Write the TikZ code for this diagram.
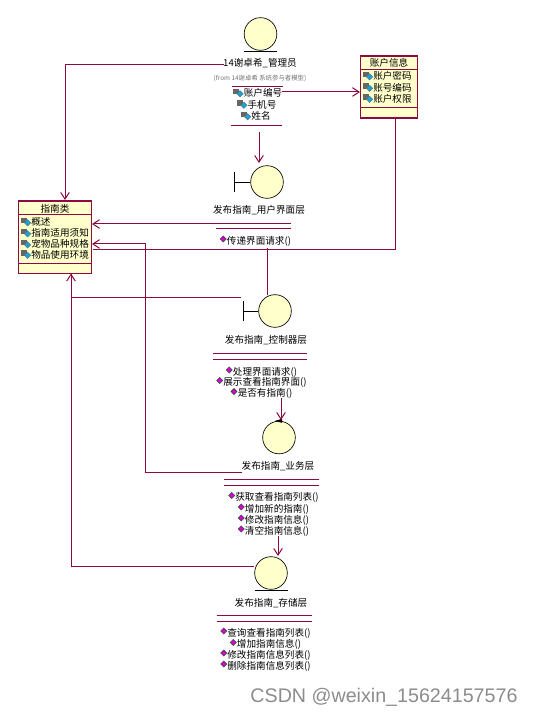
\documentclass[tikz,border=0pt]{standalone}
\usepackage{fontspec}
\setmainfont{Noto Sans CJK SC}
\newfontfamily\wmfont{Liberation Sans}
\usetikzlibrary{shapes.geometric, arrows.meta, positioning}
\definecolor{rosered}{RGB}{140,10,65}
\definecolor{roseyellow}{RGB}{255,255,203}
\definecolor{opicon}{RGB}{210,0,210}
\definecolor{attricon}{RGB}{30,160,210}

\begin{document}
\begin{tikzpicture}[x=0.75pt, y=-0.75pt, every node/.style={inner sep=0pt, font=\fontsize{7.2}{8}\selectfont}, align=center]
    % Define styles for the blocks
    \tikzstyle{classbox} = [rectangle, draw=rosered, fill=roseyellow, line width=0.8pt, anchor=north west]
    \tikzstyle{lifeball} = [circle, draw=black, fill=roseyellow, line width=0.5pt, minimum size=24.5pt]
    \tikzstyle{stereobar} = [draw=black, line width=0.6pt]
    \tikzstyle{compline} = [draw=rosered, line width=0.75pt]
    \tikzstyle{arrow} = [draw=rosered, line width=0.75pt, -{Straight Barb[length=5pt, width=6.5pt]}]
    \tikzstyle{wire} = [draw=rosered, line width=0.75pt]
    \tikzstyle{attr} = [label={[rectangle, fill=black!60, minimum width=4.5pt, minimum height=4pt, xshift=-3pt, yshift=1.2pt]left:{}}, label={[diamond, fill=attricon, draw=black!60, line width=0.2pt, minimum size=5pt, yshift=-0.6pt]left:{}}]
    \tikzstyle{oper} = [label={[diamond, fill=opicon, draw=green!40!black, line width=0.3pt, minimum size=4.8pt, yshift=1.5pt]left:{}}]

    \useasboundingbox (0,0) rectangle (533,716);

    % Define the class boxes
    \node (account) [classbox, minimum width=42.75pt, minimum height=46.5pt] at (360,55.5) {};
    \node (guide) [classbox, minimum width=54.4pt, minimum height=54.4pt] at (18,200.5) {};
    \node (accounttitle) at (389,63) {账户信息};
    \node (guidetitle) at (55,208.5) {指南类};
    \draw [compline] (360,69.5) -- (417,69.5);
    \draw [compline] (360,108) -- (417,108);
    \draw [compline] (18,215) -- (90.5,215);
    \draw [compline] (18,264) -- (90.5,264);

    \node (accpass) [attr, anchor=west] at (373,76) {账户密码};
    \node (acccode) [attr, anchor=west] at (373,87.5) {账号编码};
    \node (accperm) [attr, anchor=west] at (373,98.5) {账户权限};
    \node (guidedesc) [attr, anchor=west] at (31,222) {概述};
    \node (guidenote) [attr, anchor=west] at (31,233) {指南适用须知};
    \node (guidepet) [attr, anchor=west] at (31,244) {宠物品种规格};
    \node (guideenv) [attr, anchor=west] at (31,254.5) {物品使用环境};

    % Define the actor
    \node (admin) [lifeball] at (260.5,34) {};
    \draw [stereobar] (244,51) -- (277,51);
    \node (adminname) at (260,63.5) {14谢卓希\_管理员};
    \node (adminfrom) [font=\fontsize{4.8}{6}\selectfont, text=black!55] at (260,78) {(from 14谢卓希 系统参与者模型)};
    \draw [compline] (232,86.5) -- (283,86.5);
    \node (adminid) at (263,93) [attr] {账户编号};
    \node (adminphone) at (262,104.5) [attr] {手机号};
    \node (adminuser) at (261,116) [attr] {姓名};
    \draw [compline] (231,125.5) -- (282,125.5);

    % Define the user interface layer
    \node (ui) [lifeball] at (267,182) {};
    \draw [stereobar] (234,182) -- (ui.west);
    \draw [stereobar] (234,172) -- (234,192);
    \node (uiname) at (259,210) {发布指南\_用户界面层};
    \draw [compline] (216,224) -- (291,224);
    \draw [compline] (216,229) -- (291,229);
    \node (uipass) [oper] at (259,241) {传递界面请求()};

    % Define the controller layer
    \node (ctrl) [lifeball] at (275,311) {};
    \draw [stereobar] (243,311) -- (ctrl.west);
    \draw [stereobar] (243,301) -- (243,321);
    \node (ctrlname) at (266,340) {发布指南\_控制器层};
    \draw [compline] (213,353) -- (307,353);
    \draw [compline] (213,359) -- (307,359);
    \node (ctrlhandle) [oper] at (265,372) {处理界面请求()};
    \node (ctrlshow) [oper] at (265,382.5) {展示查看指南界面()};
    \node (ctrlhas) [oper] at (265,393.5) {是否有指南()};

    % Define the business layer
    \node (biz) [lifeball] at (279,437.5) {};
    \fill (biz.north) ++(3,-2) -- ++(-7,2) -- ++(7,2) -- cycle;
    \node (bizname) at (278,466) {发布指南\_业务层};
    \draw [compline] (224,479.5) -- (319,479.5);
    \draw [compline] (224,485.5) -- (319,485.5);
    \node (bizlist) [oper] at (277,497.5) {获取查看指南列表()};
    \node (bizadd) [oper] at (277,509) {增加新的指南()};
    \node (bizedit) [oper] at (277,520) {修改指南信息()};
    \node (bizclear) [oper] at (277,531) {清空指南信息()};

    % Define the storage layer
    \node (store) [lifeball] at (271,573) {};
    \draw [stereobar] (255,590) -- (288,590);
    \node (storename) at (271,603) {发布指南\_存储层};
    \draw [compline] (217,615.5) -- (312,615.5);
    \draw [compline] (217,621.5) -- (312,621.5);
    \node (storelist) [oper] at (269,633) {查询查看指南列表()};
    \node (storeadd) [oper] at (269,644.5) {增加指南信息()};
    \node (storeedit) [oper] at (269,655) {修改指南信息列表()};
    \node (storedel) [oper] at (269,666) {删除指南信息列表()};

    % Define the free ends of the arrows
    \coordinate (guidein) at (65,200);
    \coordinate (guideup) at (71,273.5);
    \coordinate (guideui) at (92,224);
    \coordinate (guidebiz) at (92,244);
    \coordinate (guideacc) at (93,250);
    \coordinate (uifrom) at (222,224);
    \coordinate (adminout) at (259,132);
    \coordinate (uiin) at (259,163);
    \coordinate (ctrlout) at (281,398);
    \coordinate (bizin) at (281,420);
    \coordinate (bizout) at (278,536);
    \coordinate (storein) at (278,556);
    \coordinate (uiout) at (267,248);
    \coordinate (ctrlin) at (267,295);
    \coordinate (ctrlleft) at (241,297);
    \coordinate (storeleft) at (254,566);
    \coordinate (bizleft) at (242,472);
    \coordinate (accout) at (395,119);
    \coordinate (adminoutr) at (282,92);
    \coordinate (accin) at (360,92);
    \coordinate (adminleft) at (224,65);

    % Draw arrows between the nodes
    \draw [arrow] (adminleft) -| (guidein);
    \draw [arrow] (adminoutr) -- (accin);
    \draw [arrow] (adminout) -- (uiin);
    \draw [arrow] (uifrom) -- (guideui);
    \draw [wire] (accout) |- (guideacc);
    \draw [wire] (uiout) -- (ctrlin);
    \draw [wire] (ctrlleft) -| (guideup);
    \draw [arrow] (ctrlout) -- (bizin);
    \draw [arrow] (bizleft) -| (145,244) -- (guidebiz);
    \draw [arrow] (bizout) -- (storein);
    \draw [arrow] (storeleft) -| (guideup);

    \node (watermark) [font=\wmfont\fontsize{14.75}{16}\selectfont, text=black!45] at (384,697) {CSDN @weixin\_15624157576};
\end{tikzpicture}
\end{document}
